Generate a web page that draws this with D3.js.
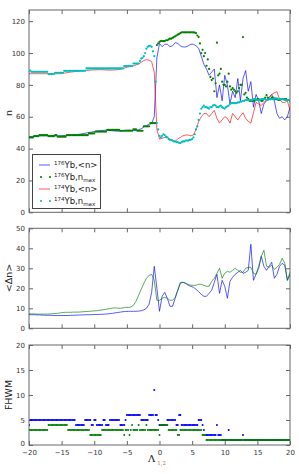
<!DOCTYPE html>
<html>
<head>
<meta charset="utf-8">
<script src="https://cdn.jsdelivr.net/npm/d3@7"></script>
<style>
  body { margin: 0; background: #fff; }
  svg { display: block; font-family: "DejaVu Sans", sans-serif; }
</style>
</head>
<body>
<div id="chart"></div>
<script>
// lambda grid: lines every 0.4, dots every 0.2, from -20 to 20
const LAMBDA_START = -20;
const LINE_STEP = 0.4;
const DOT_STEP = 0.2;

// panel 1: <n> (lines, 0.4 step)
const nMean176 = [
  47.5,47.6,47.8,47.9,48,48,48,48,48,48,
  48,48,48,48.1,48.2,48.3,48.4,48.5,48.7,48.9,
  49.2,49.5,49.8,50.1,50.4,50.7,51,51.2,51.4,51.5,
  51.5,51.4,51.2,51,50.9,51,51.2,51.5,51.6,51.5,
  51.3,51.4,51.8,52.5,53.5,54.5,55.2,55.8,60,97,
  106,104,105.5,105.5,104,104.5,106.5,106,104.5,103.8,
  103.8,104.5,105.5,105.5,104.5,103,98,93,90,86,
  88,90,72,80,70,86,80,68,76,72,
  84,70,84,89,76,82,66,74,70,62,
  68,70,72,74,70,62,59,60,58,60,
  66
];
const nMean174 = [
  87,87,87,87,87,87,87,87,87,87,
  87,87,87,87.2,87.5,87.8,88,88.2,88.4,88.6,
  88.8,89,89,89.2,89.3,89.4,89.5,89.5,89.5,89.4,
  89.3,89.3,89.3,89.4,89.5,89.8,90.3,90.8,91.3,91.6,
  92,92.5,93.2,94.2,95.3,95.8,95.5,94.5,88,52,
  46,46.5,47,47,46,45,44.5,46,47,48,
  48.5,48.5,48,48.5,52,57,60,62,62,60,
  62,64,59,56,58,60,59,56,62,60,
  58,60.5,62.5,59,57,56,62.5,69,68,67,
  69,70.5,72,74,75,75.7,71,69,69,70,
  64
];

// panel 1: n_max (dots, 0.2 step, 5 per row = one unit of lambda)
const nMax176 = [
  47,47,47,47,47.8,  47.8,47.8,47.8,48.4,48.4,  48.4,48.4,48.4,48.4,48.4,  47.8,47.8,47.8,47.8,47.8,
  48.4,48.4,47.5,47.5,47.5,  47.5,47.5,47.5,47.5,48.4,  48.4,48.4,48.4,48.4,48.4,  48.4,48.4,48.4,48.4,48.4,
  48.4,48.4,48.4,48.4,48.4,  48.4,49.5,49.5,49.5,49.5,  49.5,50.7,50.7,50.7,50.7,  50.7,50.7,50.7,50.7,50.7,
  51.7,51.7,51.7,51.7,51.7,  51.7,51.7,51.7,51.7,51.7,  51.2,51.2,51.2,51.2,51.2,  51.2,51.2,51.2,51.2,51.2,
  52,52,52,51.2,51.2,  51.2,51.2,51.2,54,54,  54,54,54,56,56,  56,56,56,105,106,
  107,107.5,107.5,107.5,107.5,  108,108,108.5,109,109,  109.5,110,110.5,111,111.5,  112,112.5,113,113,113,
  113,113,113,113,113,  113,113,112.8,112.5,111,  110,106,100,102,98,  100,92,96,90,85,
  83,84,76,81,106.5,  86,87,90,82,80,  80,79,82,87,79,  77,78,77,76,75,
  76,78,80,80,110,  74,75,72,71,70,  70,70,70,70,70.5,  71,71,70.5,70,70,
  71,72,73.5,72,71,  71,72,72,71,71,  71,70.5,70.5,71,71,  71,71,71,70.5,70.5,
  70
];
const nMax174 = [
  88.2,89,88.2,88.2,88.2,  88.2,88.2,88.2,88.2,88.2,  88.2,88.2,88.2,88.2,88.2,  86.8,86.8,86.8,86.8,86.8,
  87.6,87.6,87.6,87.6,87.6,  87.6,87.6,88.8,88.8,88.8,  88.8,88.8,88.8,88.8,88.8,  88.8,88.8,88.8,88.8,88.8,
  88.8,88.8,88.8,88.8,90.3,  90.3,90.3,90.3,90.3,90.3,  90.3,90.3,90.3,90.3,90.3,  90.3,90.3,90.3,90.3,90.3,
  90.3,90.3,90.3,90.3,90.3,  90.3,90.3,90.3,90.3,90.3,  90.3,90.3,90.3,91.8,91.8,  91.8,91.8,91.8,91.8,91.8,
  93.4,93.4,93.4,93.4,93.4,  95,96.5,97,98,100,  102.7,103.9,104.5,104.5,103.9,  101,98,82,56,52,
  48,47,48,49,48.5,  47.5,47,46,45.5,45.5,  45,44.5,44.5,44,44,  43.5,43.5,44,44.5,44.5,
  45,45,45,45.5,45.5,  46,47,49,52,54,  58,62,65,66,67,  66,66,65.5,65,66,
  66,67,67.5,67,66,  66,66.5,67,66,65.5,  65,66,66.5,67,68,  68.5,68.5,68.5,68.5,68.5,
  69,69,69.5,69.5,70,  70,70.5,70.5,70.5,70.5,  70.5,70.5,71,71,70.5,  70.5,70.5,70.5,71,71,
  71,71,70.5,70.5,71,  71,71,71,71.5,71.5,  71.5,71,71,71,71,  71,70.5,70.5,70.5,70.5,
  70.5
];

// panel 2: <delta n> (lines, 0.4 step)
const dn176 = [
  6.8,6.8,6.8,6.7,6.7,6.6,6.6,6.5,6.5,6.4,
  6.4,6.4,6.4,6.4,6.4,6.4,6.5,6.5,6.6,6.6,
  6.7,6.7,6.8,6.8,6.8,6.9,6.9,7.0,7.0,7.1,
  7.2,7.3,7.5,7.7,7.9,8.1,8.3,8.4,8.5,8.5,
  8.5,8.5,8.6,8.8,9.2,10,12,18,31,20,
  8.5,16,18,15,11,11,15,19,22.5,23,
  22.5,21.5,21,20.5,19.5,18.3,17,16,16,17.5,
  19,23,27,17.5,24,21,15,23.5,25.5,27,
  28,29,27.5,28,29,42,24,27,30,36,
  31,29,31,33,25,27,31,32.5,31.5,24,
  27
];
const dn174 = [
  7.3,7.2,7.2,7.1,7.1,7.1,7.1,7.1,7.2,7.3,
  7.4,7.5,7.7,7.9,8.0,8.0,8.0,8.1,8.1,8.1,
  8.2,8.3,8.4,8.5,8.6,8.7,8.8,9.0,9.2,9.4,
  9.6,9.9,10.1,10.2,10.1,10.0,10.2,10.5,10.4,10.6,
  11.5,13.5,16.5,19.5,22.5,25,26.5,27,24,14,
  14,15,15.5,15,14,14,15.5,19,23,23,
  22.5,22,21.5,21.5,21.5,22,22,21.5,21,21,
  23.5,25,27.5,30,25,27.5,28.5,28,29,30,
  29,28,28,30,30.5,30.5,27.5,27,31,36,
  39,31,30.5,31.5,29.5,30.5,32,35,32.5,24,
  28
];

// panel 3: FHWM (dots, 0.2 step)
const fwhm176 = [
  4,5,5,5,5,  5,5,5,5,5,  5,5,5,5,5,  5,5,5,5,5,
  5,5,5,5,5,  5,5,5,5,5,  5,5,5,5,5,  5,4,4,4,4,
  4,4,4,5,5,  5,5,5,4,4,  5,5,4,4,4,  4,4,5,5,4,
  4,4,5,5,5,  5,5,5,5,5,  4,4,4,4,5,  6,6,6,6,6,
  6,6,6,6,6,  6,5,5,5,5,  5,5,6,6,6,  6,11,6,6,5,
  4,4,4,4,4,  4,5,5,5,5,  5,5,5,4,4,  6,6,4,4,4,
  4,4,4,4,4,  4,4,4,4,4,  5,5,5,4,3,  2,2,2,2,2,
  2,2,2,2,4,  2,2,2,1,1,  1,1,1,3,1,  1,1,1,1,1,
  1,1,1,1,2,  1,1,1,1,1,  1,1,1,1,1,  1,1,1,1,1,
  1,1,1,1,1,  1,1,1,1,1,  1,1,1,1,1,  1,1,1,1,1,
  1
];
const fwhm174 = [
  3,3,3,3,3,  3,3,3,3,3,  3,3,3,3,3,  4,4,4,4,4,
  4,4,4,4,4,  4,4,4,4,4,  3,3,3,3,3,  3,3,3,3,3,
  3,3,3,3,3,  3,3,2,2,2,  2,2,2,2,2,  2,3,3,3,3,
  3,3,3,3,3,  3,3,3,3,3,  3,3,3,2,3,  3,3,2,3,4,
  3,3,3,3,4,  3,3,3,3,3,  4,3,3,3,3,  3,3,3,3,3,
  2,4,4,4,4,  4,4,3,3,3,  3,3,3,3,2,  2,3,3,3,3,
  3,3,3,3,3,  3,3,3,3,3,  3,3,3,2,2,  2,1,1,1,1,
  1,1,1,1,1,  1,1,1,1,1,  1,1,1,1,1,  1,1,1,1,1,
  1,1,1,1,1,  1,1,1,1,1,  1,1,1,1,1,  1,1,1,1,1,
  1,1,1,1,1,  1,1,1,1,1,  1,1,1,1,1,  1,1,1,1,1,
  1
];

const xTicks = [-20, -15, -10, -5, 0, 5, 10, 15, 20];
const nTicks = [0, 20, 40, 60, 80, 100, 120];
const dnTicks = [0, 10, 20, 30, 40, 50];
const fwhmTicks = [0, 5, 10, 15, 20];

const W = 299, H = 474;
const svg = d3.select("#chart").append("svg")
    .attr("width", W).attr("height", H);
svg.append("rect").attr("width", W).attr("height", H).attr("fill", "#fff");

const x = d3.scaleLinear().domain([-20, 20]).range([29, 290]);

const panels = [
    {top: 10, bottom: 212.3, max: 127, ticks: nTicks, label: "n", labelY: 113},
    {top: 228.3, bottom: 328.3, max: 50, ticks: dnTicks, label: "<\u0394n>", labelY: 278},
    {top: 345, bottom: 445, max: 20, ticks: fwhmTicks, label: "FHWM", labelY: 395}
];

function withLambda(values, step) {
    return values.map(function(v, i) {
        return {lam: LAMBDA_START + i * step, val: v};
    });
}

panels.forEach(function(p, k) {
    p.y = d3.scaleLinear().domain([0, p.max]).range([p.bottom, p.top]);
    let g = svg.append("g");

    let left = g.append("g").attr("transform", "translate(29,0)")
        .call(d3.axisLeft(p.y).tickValues(p.ticks).tickSize(-4).tickPadding(4));
    let right = g.append("g").attr("transform", "translate(290,0)")
        .call(d3.axisRight(p.y).tickValues(p.ticks).tickSize(-4).tickFormat(""));
    let top = g.append("g").attr("transform", "translate(0," + p.top + ")")
        .call(d3.axisTop(x).tickValues(xTicks).tickSize(-4).tickFormat(""));
    let bottom = g.append("g").attr("transform", "translate(0," + p.bottom + ")")
        .call(d3.axisBottom(x).tickValues(xTicks).tickSize(-4).tickPadding(5)
            .tickFormat(k === 2 ? d3.format("d") : ""));

    [left, right, top, bottom].forEach(function(a) {
        a.select(".domain").remove();
        a.selectAll("line").attr("stroke", "#666");
        a.selectAll("text").attr("fill", "#333").style("font-size", "7px")
            .style("font-family", "DejaVu Sans, sans-serif");
    });
    // bottom-left "0" sits close to "-20" like the original; nudge it up a hair
    if (k === 2) {
        left.selectAll(".tick").filter(function(d) { return d === 0; })
            .select("text").attr("dy", "0.1em");
    }

    g.append("rect")
        .attr("x", 29).attr("y", p.top)
        .attr("width", 261).attr("height", p.bottom - p.top)
        .attr("fill", "none").attr("stroke", "#666").attr("stroke-width", 1);

    g.append("text")
        .attr("transform", "translate(12," + p.labelY + ") rotate(-90)")
        .attr("text-anchor", "middle")
        .style("font-size", "9.5px")
        .attr("fill", "#222")
        .text(p.label);
});

// clip each panel to its frame
panels.forEach(function(p, k) {
    svg.append("clipPath").attr("id", "clip" + k)
        .append("rect").attr("x", 29).attr("y", p.top)
        .attr("width", 261).attr("height", p.bottom - p.top);
    p.plot = svg.append("g").attr("clip-path", "url(#clip" + k + ")");
});

function drawLine(p, values, color) {
    let line = d3.line()
        .x(function(d) { return x(d.lam); })
        .y(function(d) { return p.y(d.val); });
    p.plot.append("path")
        .datum(withLambda(values, LINE_STEP))
        .attr("d", line)
        .attr("fill", "none")
        .attr("stroke", color)
        .attr("stroke-opacity", 0.65)
        .attr("stroke-width", 1);
}

function drawDots(p, values, color, r) {
    p.plot.selectAll(null)
        .data(withLambda(values, DOT_STEP))
        .enter().append("circle")
        .attr("cx", function(d) { return x(d.lam); })
        .attr("cy", function(d) { return p.y(d.val); })
        .attr("r", r)
        .attr("fill", color);
}

// panel 1
drawLine(panels[0], nMean176, "#0000ff");
drawDots(panels[0], nMax176, "#008000", 1.1);
drawLine(panels[0], nMean174, "#ff0000");
drawDots(panels[0], nMax174, "#00bfbf", 1.1);

// panel 2
drawLine(panels[1], dn176, "#0000ff");
drawLine(panels[1], dn174, "#008000");

// panel 3
drawDots(panels[2], fwhm176, "#0000ff", 1.0);
drawDots(panels[2], fwhm174, "#008000", 1.0);

// legend
const legendItems = [
    {iso: "176", text: "Yb,<n>", sub: null, color: "#0000ff", kind: "line"},
    {iso: "176", text: "Yb,n", sub: "max", color: "#008000", kind: "dot"},
    {iso: "174", text: "Yb,<n>", sub: null, color: "#ff0000", kind: "line"},
    {iso: "174", text: "Yb,n", sub: "max", color: "#00bfbf", kind: "dot"}
];
let legend = svg.append("g");
legend.append("rect")
    .attr("x", 32.5).attr("y", 154.5).attr("width", 68).attr("height", 54)
    .attr("fill", "#fff").attr("stroke", "#444").attr("stroke-width", 1);
legendItems.forEach(function(d, i) {
    let yy = 165 + i * 12;
    if (d.kind === "line") {
        legend.append("line")
            .attr("x1", 39).attr("x2", 50).attr("y1", yy).attr("y2", yy)
            .attr("stroke", d.color).attr("stroke-opacity", 0.65);
    } else {
        [41, 50].forEach(function(cx) {
            legend.append("circle").attr("cx", cx).attr("cy", yy).attr("r", 1.1).attr("fill", d.color);
        });
    }
    let t = legend.append("text")
        .attr("x", 54).attr("y", yy + 3)
        .style("font-size", "8.5px").attr("fill", "#222");
    t.append("tspan").text(d.iso).style("font-size", "5.5px").attr("dy", -3);
    t.append("tspan").text(d.text).attr("dy", 3);
    if (d.sub) {
        t.append("tspan").text(d.sub).style("font-size", "5.5px").attr("dy", 2);
    }
});

// x label
let xl = svg.append("text")
    .attr("x", 148).attr("y", 462)
    .style("font-family", "DejaVu Serif, serif")
    .style("font-size", "10px").attr("fill", "#222");
xl.append("tspan").text("\u039B");
xl.append("tspan").text("1,2").style("font-size", "5.5px")
    .attr("fill", "#c0703a").attr("dy", 3).attr("dx", 2);
</script>
</body>
</html>
